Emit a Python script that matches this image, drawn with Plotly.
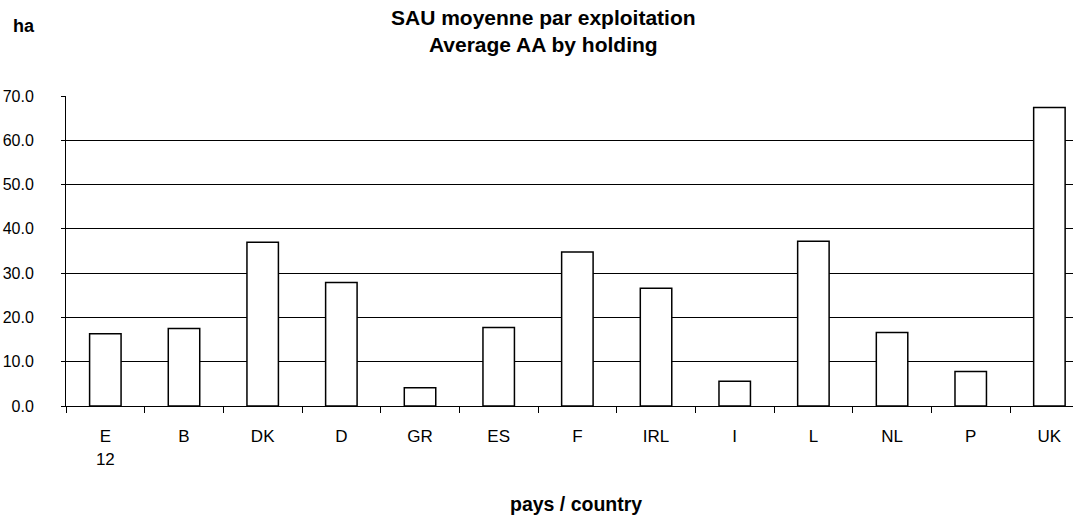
import plotly.graph_objects as go

countries = ["E<br>12", "B", "DK", "D", "GR", "ES", "F", "IRL", "I", "L", "NL", "P", "UK"]
avg_area_ha = [16.3, 17.5, 37.0, 27.9, 4.1, 17.7, 34.8, 26.6, 5.6, 37.2, 16.6, 7.8, 67.4]
y_ticks = [0, 10, 20, 30, 40, 50, 60, 70]
y_tick_labels = ["0.0", "10.0", "20.0", "30.0", "40.0", "50.0", "60.0", "70.0"]

FONT = "Liberation Sans, Arial, sans-serif"

L, T, B = 66, 96, 405.7
W, H = 1073, 515
PW, PH = W - L, B - T


def px(x):
    return (x - L) / PW


def py(y):
    return (B - y) / PH


fig = go.Figure(go.Bar(
    x=countries, y=avg_area_ha, width=0.4,
    marker=dict(color="white", line=dict(color="black", width=1.5)),
))

fig.update_layout(
    width=W, height=H,
    margin=dict(l=L, r=0, t=T, b=H - B),
    paper_bgcolor="white", plot_bgcolor="white",
    showlegend=False,
    font=dict(family=FONT, color="black", size=16),
    annotations=[
        dict(text="<b>SAU moyenne par exploitation<br>Average AA by holding</b>",
             xref="paper", yref="paper", x=px(543.5), y=py(31),
             xanchor="center", yanchor="middle", showarrow=False,
             font=dict(size=21, family=FONT, color="black")),
        dict(text="<b>ha</b>", xref="paper", yref="paper",
             x=px(23.5), y=py(26),
             xanchor="center", yanchor="middle", showarrow=False,
             font=dict(size=18, family=FONT, color="black")),
        dict(text="<b>pays / country</b>", xref="paper", yref="paper",
             x=px(575.5), y=py(504),
             xanchor="center", yanchor="middle", showarrow=False,
             font=dict(size=19.5, family=FONT, color="black")),
    ],
)

fig.update_xaxes(
    type="category", range=[-0.5, 12.3],
    showline=True, linecolor="black", linewidth=1,
    ticks="outside", tickson="boundaries", ticklen=6, tickcolor="black",
    ticklabelstandoff=15,
    showgrid=False, automargin=False,
    tickfont=dict(size=17, family=FONT, color="black"),
)
fig.update_yaxes(
    range=[0, 70], tickvals=y_ticks, ticktext=y_tick_labels,
    showline=True, linecolor="black", linewidth=1,
    ticks="outside", ticklen=4, tickcolor="black",
    showgrid=True, gridcolor="black", gridwidth=1,
    zeroline=False, automargin=False,
    ticklabelstandoff=24,
    tickfont=dict(size=16, family=FONT, color="black"),
)

fig.write_html("out.html", config={"displayModeBar": False},
               post_script="document.body.style.margin='0';")
